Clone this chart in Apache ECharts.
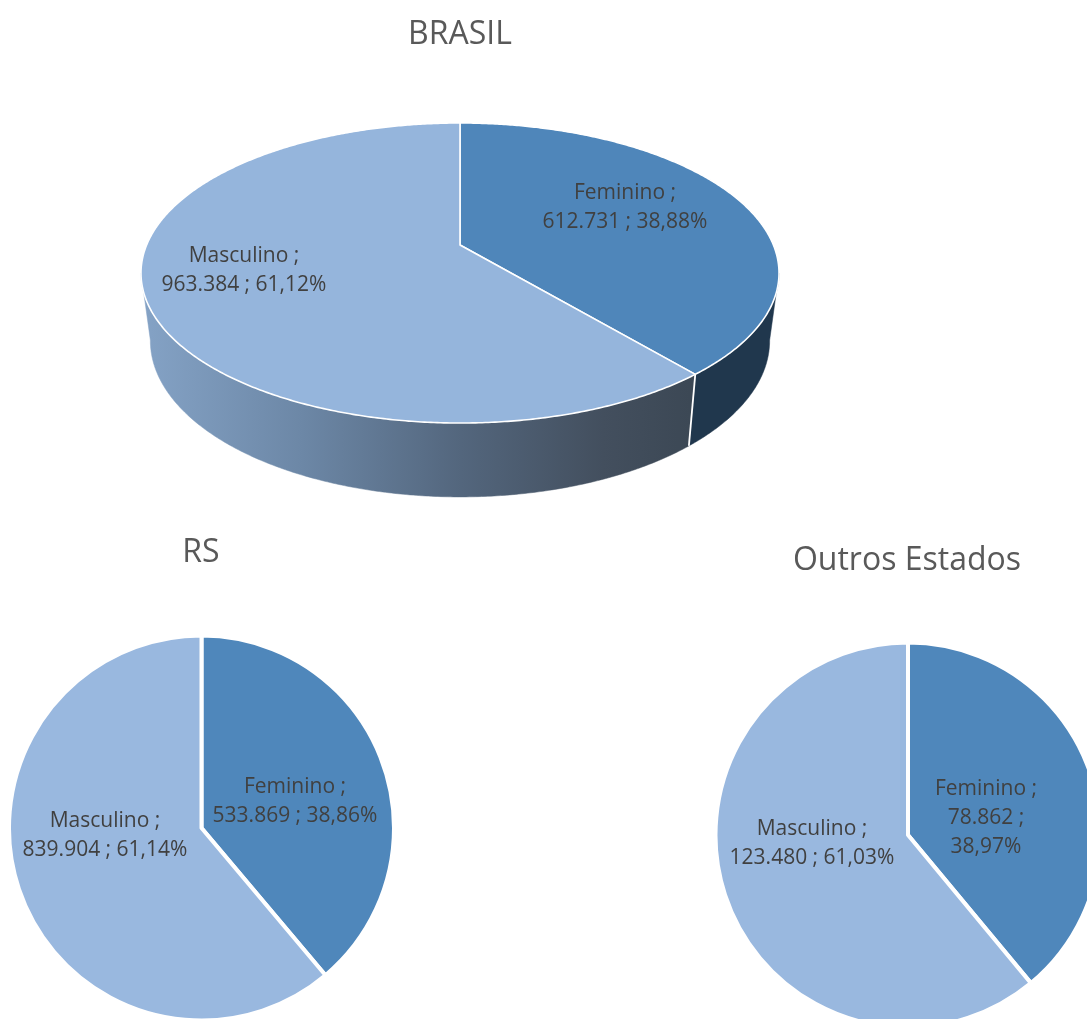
<!DOCTYPE html>
<html><head><meta charset="utf-8">
<style>html,body{margin:0;padding:0;background:#fff}#c{width:1087px;height:1019px}</style>
<script src="https://cdn.jsdelivr.net/npm/echarts@6/dist/echarts.min.js"></script>
</head><body><div id="c"></div>
<script>
const categories = ['Feminino', 'Masculino'];
const brasilValues = [612731, 963384];
const rsValues = [533869, 839904];
const outrosValues = [78862, 123480];
const chartTitles = ['BRASIL', 'RS', 'Outros Estados'];

const FONT = '"Open Sans", sans-serif';
const TEXT = '#404040';
const DARK = '#4f87bb', LIGHT = '#99b8df';

const fmtNum = v => String(v).replace(/\B(?=(\d{3})+$)/g, '.');
const fmtPct = (v, vals) => (100 * v / vals.reduce((a, b) => a + b, 0)).toFixed(2).replace('.', ',') + '%';

// projection of the tilted 3D disc (top face and bottom face)
const topFace = { cx: 460, cy: 245, a: 144.8, b: 313.4, k: 0.1867 };
const botFace = { cx: 460, cy: 311, a: 150.6, b: 304, k: 0.19 };
const proj = (f, t) => {
  const u = Math.sin(t), v = Math.cos(t), d = 1 + f.k * v;
  return [f.cx + f.b * u / d, f.cy - f.a * v / d];
};
const arc = (f, t0, t1) => {
  const n = Math.max(2, Math.ceil(Math.abs(t1 - t0) * 120)), p = [];
  for (let i = 0; i <= n; i++) p.push(proj(f, t0 + (t1 - t0) * i / n));
  return p;
};
const silR = Math.acos(-topFace.k), silL = 2 * Math.PI - silR;
const brasilLabelPos = [[625, 208], [244, 271]];

function render3D(params, api) {
  const i = params.dataIndex;
  const tot = brasilValues.reduce((a, b) => a + b, 0);
  const before = brasilValues.slice(0, i).reduce((a, b) => a + b, 0);
  const t0 = 2 * Math.PI * before / tot, t1 = 2 * Math.PI * (before + brasilValues[i]) / tot;
  const children = [];
  const s0 = Math.max(t0, silR), s1 = Math.min(t1, silL);
  if (s1 > s0) {
    const fill = i === 0 ? '#20374d' : new echarts.graphic.LinearGradient(145, 0, 690, 0, [
      { offset: 0, color: '#84a2c5' }, { offset: 0.29, color: '#6c87a6' },
      { offset: 0.58, color: '#53667d' }, { offset: 0.84, color: '#434f5e' },
      { offset: 1, color: '#3c4855' }], true);
    children.push({ type: 'polygon', shape: { points: arc(topFace, s0, s1).concat(arc(botFace, s1, s0)) },
      style: { fill, stroke: fill, lineWidth: 0.5 } });
  }
  children.push({ type: 'polygon',
    shape: { points: [[topFace.cx, topFace.cy]].concat(arc(topFace, t0, t1)) },
    style: { fill: i === 0 ? '#4f86ba' : '#95b5dc', stroke: '#fff', lineWidth: 1.6, lineJoin: 'round' } });
  if (i === 0) {
    children.push({ type: 'line', z2: 5,
      shape: { x1: proj(topFace, t1)[0], y1: proj(topFace, t1)[1], x2: proj(botFace, t1)[0], y2: proj(botFace, t1)[1] },
      style: { stroke: '#fff', lineWidth: 1.8 } });
  }
  children.push({ type: 'text', z2: 10, style: {
    text: categories[i] + ' ;\n' + fmtNum(brasilValues[i]) + ' ; ' + fmtPct(brasilValues[i], brasilValues),
    x: brasilLabelPos[i][0], y: brasilLabelPos[i][1], align: 'center', verticalAlign: 'middle',
    fill: TEXT, font: '21px ' + FONT, lineHeight: 29 } });
  return { type: 'group', children };
}

function flatPie(vals, center, labelPos, narrow) {
  return {
    type: 'pie', center, radius: 192.5, startAngle: 90, clockwise: true, animation: false, silent: true,
    padAngle: 0, avoidLabelOverlap: false,
    itemStyle: { borderColor: '#fff', borderWidth: 4 },
    data: categories.map((n, i) => ({ name: n, value: vals[i], itemStyle: { color: i === 0 ? DARK : LIGHT } })),
    label: { show: true, position: 'inside', color: TEXT, fontFamily: FONT, fontSize: 21, lineHeight: 29,
      formatter: p => p.name + ' ;\n' + fmtNum(p.value) + ' ;' + (narrow && narrow[p.dataIndex] ? '\n' : ' ') + fmtPct(p.value, vals) },
    labelLine: { show: false },
    labelLayout: p => ({ x: labelPos[p.dataIndex][0], y: labelPos[p.dataIndex][1], align: 'center', verticalAlign: 'middle' })
  };
}

const chart = echarts.init(document.getElementById('c'), null, { renderer: 'canvas' });
const titleStyle = { color: '#595959', fontFamily: FONT, fontWeight: 'normal', fontSize: 32 };
chart.setOption({
  animation: false,
  backgroundColor: '#fff',
  title: [
    { text: chartTitles[0], left: 460, top: 19, textAlign: 'center', padding: 0, textStyle: titleStyle },
    { text: chartTitles[1], left: 201, top: 537, textAlign: 'center', padding: 0, textStyle: titleStyle },
    { text: chartTitles[2], left: 907, top: 545, textAlign: 'center', padding: 0, textStyle: titleStyle }
  ],
  series: [
    { type: 'custom', coordinateSystem: 'none', silent: true, renderItem: render3D,
      data: brasilValues.map(v => [v]) },
    flatPie(rsValues, [201.5, 828], [[295, 802], [105, 836]]),
    flatPie(outrosValues, [908, 835], [[986, 818], [812, 844]], [true, false])
  ]
});
</script></body></html>
